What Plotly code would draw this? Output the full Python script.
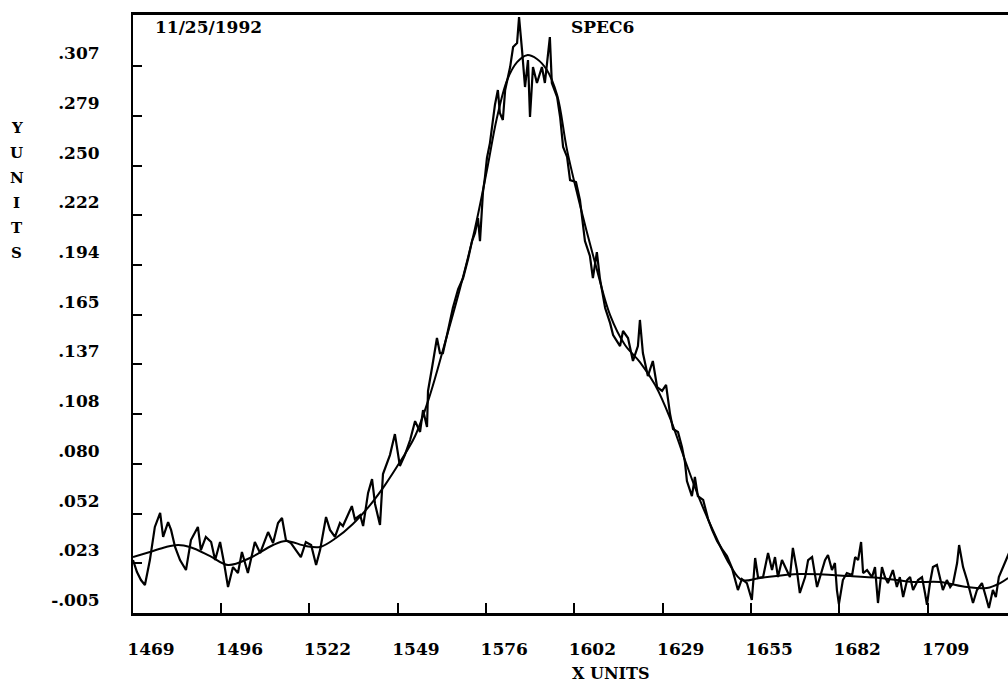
import plotly.graph_objects as go

# Raw spectrum (SPEC6): wavelength positions and measured intensity
spec_x = [
    1469.0, 1470.2, 1471.4, 1472.6, 1474.1, 1475.6, 1477.2, 1478.1, 1479.6, 1480.5,
    1481.7, 1483.2, 1485.0, 1486.5, 1488.6, 1489.5, 1491.0, 1492.6, 1493.8, 1495.3,
    1496.5, 1497.7, 1499.2, 1500.7, 1501.9, 1503.7, 1505.8, 1507.4, 1509.8, 1511.3,
    1512.8, 1514.0, 1515.2, 1516.7, 1518.2, 1519.7, 1521.2, 1522.8, 1524.3, 1525.5,
    1527.3, 1528.5, 1530.0, 1531.5, 1532.4, 1535.1, 1536.0, 1537.6, 1538.5, 1540.0,
    1541.2, 1542.1, 1543.6, 1544.5, 1546.6, 1548.1, 1549.6, 1551.1, 1552.7, 1554.2,
    1555.7, 1556.6, 1557.8, 1558.1, 1559.3, 1560.8, 1561.7, 1562.6, 1564.1, 1565.6,
    1567.2, 1568.7, 1570.2, 1571.4, 1572.3, 1573.2, 1573.8, 1574.7, 1575.3, 1575.9,
    1576.8, 1577.4, 1578.3, 1579.2, 1579.8, 1580.7, 1581.4, 1582.9, 1583.8, 1585.0,
    1585.6, 1586.5, 1587.4, 1588.3, 1588.9, 1589.8, 1591.0, 1592.5, 1593.4, 1594.9,
    1595.5, 1597.1, 1598.0, 1598.9, 1600.1, 1601.0, 1602.8, 1604.0, 1604.6, 1605.5,
    1607.0, 1607.9, 1609.1, 1610.0, 1611.6, 1613.1, 1614.0, 1616.1, 1617.0, 1618.5,
    1620.0, 1621.5, 1622.1, 1623.0, 1624.5, 1626.0, 1627.3, 1628.8, 1630.0, 1631.2,
    1632.1, 1633.6, 1634.8, 1635.7, 1636.3, 1637.8, 1638.7, 1639.6, 1641.2, 1642.7,
    1643.9, 1645.4, 1646.9, 1648.4, 1649.9, 1650.8, 1651.7, 1652.9, 1654.4, 1655.9,
    1656.9, 1657.8, 1659.3, 1660.8, 1662.0, 1662.9, 1663.8, 1665.0, 1666.5, 1667.4,
    1668.3, 1669.5, 1670.4, 1672.0, 1672.9, 1674.1, 1675.6, 1677.1, 1678.0, 1678.9,
    1680.1, 1681.0, 1681.6, 1682.2, 1683.4, 1684.6, 1686.2, 1687.1, 1688.0, 1688.9,
    1689.5, 1690.7, 1692.2, 1693.1, 1694.0, 1695.2, 1696.1, 1697.0, 1698.5, 1699.7,
    1700.6, 1701.6, 1702.8, 1703.7, 1704.6, 1706.1, 1707.3, 1708.2, 1708.8, 1709.7,
    1710.6, 1711.8, 1712.7, 1713.6, 1714.8, 1715.8, 1716.7, 1717.9, 1718.5, 1719.7,
    1720.9, 1721.8, 1722.7, 1723.9, 1725.4, 1726.6, 1727.5, 1728.7, 1729.6, 1730.5,
    1731.8, 1733.0, 1734.2,
]
spec_y = [
    0.0252, 0.0184, 0.0138, 0.0110, 0.0252, 0.0441, 0.0521, 0.0384, 0.0469, 0.0424,
    0.0327, 0.0252, 0.0195, 0.0366, 0.0441, 0.0309, 0.0384, 0.0355, 0.0252, 0.0355,
    0.0235, 0.0098, 0.0212, 0.0178, 0.0298, 0.0178, 0.0355, 0.0292, 0.0412, 0.0349,
    0.0463, 0.0492, 0.0366, 0.0349, 0.0309, 0.0269, 0.0355, 0.0338, 0.0224, 0.0309,
    0.0498, 0.0424, 0.0384, 0.0463, 0.0446, 0.0560, 0.0486, 0.0509, 0.0446, 0.0635,
    0.0714, 0.0572, 0.0452, 0.0743, 0.0851, 0.0971, 0.0789, 0.0851, 0.0937, 0.1045,
    0.0983, 0.1108, 0.1011, 0.1217, 0.1348, 0.1519, 0.1433, 0.1433, 0.1559, 0.1690,
    0.1798, 0.1861, 0.1970, 0.2072, 0.2118, 0.2203, 0.2072, 0.2352, 0.2437, 0.2546,
    0.2631, 0.2717, 0.2848, 0.2934, 0.2803, 0.2763, 0.2934, 0.3065, 0.3179, 0.3202,
    0.3350, 0.3162, 0.2951, 0.3105, 0.2780, 0.3065, 0.2974, 0.3065, 0.2974, 0.3236,
    0.2974, 0.2894, 0.2780, 0.2609, 0.2552, 0.2420, 0.2409, 0.2306, 0.2203, 0.2072,
    0.1987, 0.1861, 0.2009, 0.1861, 0.1690, 0.1604, 0.1536, 0.1473, 0.1559, 0.1519,
    0.1388, 0.1473, 0.1622, 0.1433, 0.1302, 0.1388, 0.1239, 0.1217, 0.1251, 0.1085,
    0.1000, 0.0983, 0.0897, 0.0811, 0.0703, 0.0617, 0.0726, 0.0617, 0.0595, 0.0486,
    0.0424, 0.0361, 0.0315, 0.0275, 0.0207, 0.0144, 0.0081, 0.0144, 0.0121, 0.0024,
    0.0264, 0.0150, 0.0155, 0.0292, 0.0195, 0.0269, 0.0155, 0.0252, 0.0195, 0.0155,
    0.0321, 0.0195, 0.0064, 0.0155, 0.0252, 0.0269, 0.0098, 0.0195, 0.0252, 0.0281,
    0.0195, 0.0235, 0.0081, 0.0001, 0.0138, 0.0178, 0.0167, 0.0269, 0.0252, 0.0355,
    0.0178, 0.0195, 0.0155, 0.0212, 0.0007, 0.0212, 0.0155, 0.0121, 0.0195, 0.0098,
    0.0155, 0.0041, 0.0138, 0.0155, 0.0081, 0.0138, 0.0155, 0.0064, -0.0004, 0.0121,
    0.0212, 0.0224, 0.0155, 0.0081, 0.0138, 0.0098, 0.0121, 0.0235, 0.0338, 0.0212,
    0.0138, 0.0064, 0.0007, 0.0081, 0.0121, 0.0041, -0.0021, 0.0081, 0.0041, 0.0155,
    0.0212, 0.0269, 0.0320,
]

# Smoothed fit through the spectrum
fit_x = [
    1469.0, 1474.1, 1479.0, 1482.6, 1486.2, 1492.3, 1497.7, 1504.3, 1511.3, 1515.2,
    1521.2, 1525.5, 1530.3, 1535.4, 1540.6, 1545.1, 1549.6, 1554.2, 1558.7, 1563.2,
    1567.8, 1572.3, 1575.9, 1578.9, 1582.0, 1585.0, 1588.0, 1591.0, 1594.0, 1597.1,
    1600.1, 1604.0, 1608.5, 1613.1, 1617.6, 1622.1, 1626.7, 1631.2, 1635.7, 1640.2,
    1644.8, 1649.3, 1652.9, 1658.4, 1670.4, 1685.6, 1694.6, 1704.6, 1712.7, 1720.9,
    1726.9, 1730.9, 1733.3,
]
fit_y = [
    0.0269, 0.0298, 0.0327, 0.0338, 0.0327, 0.0275, 0.0224, 0.0264, 0.0338, 0.0361,
    0.0332, 0.0327, 0.0378, 0.0458, 0.0566, 0.0680, 0.0811, 0.0960, 0.1194, 0.1490,
    0.1804, 0.2146, 0.2477, 0.2774, 0.2991, 0.3093, 0.3133, 0.3111, 0.3048, 0.2905,
    0.2591, 0.2278, 0.1952, 0.1650, 0.1479, 0.1382, 0.1251, 0.1062, 0.0823, 0.0595,
    0.0395, 0.0224, 0.0138, 0.0150, 0.0172, 0.0161, 0.0150, 0.0127, 0.0127, 0.0098,
    0.0093, 0.0121, 0.0150,
]

# Axis ticks and labels
x_tick_vals = [1469.0, 1495.7, 1522.3, 1549.0, 1575.7, 1602.3, 1629.0, 1655.7, 1682.3, 1709.0]
x_tick_text = ["1469", "1496", "1522", "1549", "1576", "1602", "1629", "1655", "1682", "1709"]
y_tick_vals = [-0.005, 0.0234, 0.0517, 0.0801, 0.1084, 0.1368, 0.1652, 0.1935,
               0.2219, 0.2503, 0.2786, 0.307]
y_tick_text = ["-.005", ".023", ".052", ".080", ".108", ".137", ".165", ".194",
               ".222", ".250", ".279", ".307"]

FONT = "DejaVu Serif"
INK = "#000000"

fig = go.Figure()
fig.add_trace(go.Scatter(x=spec_x, y=spec_y, mode="lines",
                         line=dict(color=INK, width=2.2), hoverinfo="skip"))
fig.add_trace(go.Scatter(x=fit_x, y=fit_y, mode="lines", line_shape="spline",
                         line=dict(color=INK, width=2), hoverinfo="skip"))

fig.update_layout(
    width=1008, height=685,
    margin=dict(l=133, r=0, t=15, b=72),
    paper_bgcolor="white", plot_bgcolor="white",
    showlegend=False,
    font=dict(family=FONT, size=17, color=INK, weight="bold"),
    xaxis=dict(
        range=[1469.0, 1733.27], showgrid=False, zeroline=False,
        showline=True, linecolor=INK, linewidth=3, mirror=True,
        ticks="inside", ticklen=10, tickwidth=2, tickcolor=INK,
        tickmode="array", tickvals=x_tick_vals, ticktext=x_tick_text,
        ticklabelshift=18, ticklabelstandoff=19,
        tickfont=dict(family=FONT, size=17, color=INK, weight="bold"),
    ),
    yaxis=dict(
        range=[-0.005, 0.3362], showgrid=False, zeroline=False,
        showline=True, linecolor=INK, linewidth=2,
        ticks="inside", ticklen=9, tickwidth=2, tickcolor=INK,
        tickmode="array", tickvals=y_tick_vals, ticktext=y_tick_text,
        ticklabelshift=-13, ticklabelstandoff=28,
        tickfont=dict(family=FONT, size=17, color=INK, weight="bold"),
    ),
)

# Header text inside the frame
fig.add_annotation(text="11/25/1992", xref="paper", yref="paper", x=0.0229, y=0.980,
                   xanchor="left", yanchor="middle", showarrow=False,
                   font=dict(family=FONT, size=17, color=INK, weight="bold"))
fig.add_annotation(text="SPEC6", xref="paper", yref="paper", x=0.498, y=0.980,
                   xanchor="left", yanchor="middle", showarrow=False,
                   font=dict(family=FONT, size=17, color=INK, weight="bold"))

# Axis titles
fig.add_annotation(text="X UNITS", xref="paper", yref="paper", x=0.546, y=-0.1015,
                   xanchor="center", yanchor="middle", showarrow=False,
                   font=dict(family=FONT, size=16, color=INK, weight="bold"))
y_title_rows = [0.8110, 0.7692, 0.7274, 0.6856, 0.6438, 0.6020]
for letter, yy in zip("YUNITS", y_title_rows):
    fig.add_annotation(text=letter, xref="paper", yref="paper", x=-0.1326, y=yy,
                       xanchor="center", yanchor="middle", showarrow=False,
                       font=dict(family=FONT, size=15, color=INK, weight="bold"))

fig.write_html("out.html")
